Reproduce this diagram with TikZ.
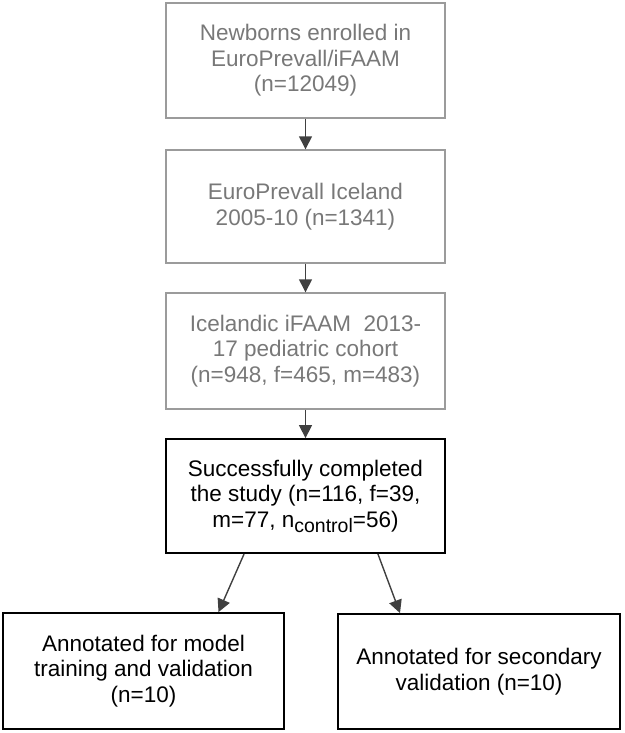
\documentclass[tikz,border=0pt]{standalone}
\usepackage{fontspec}
\setmainfont{Liberation Sans}
\usetikzlibrary{arrows.meta}
\definecolor{graytext}{RGB}{120,120,120}
\definecolor{grayline}{RGB}{155,155,155}
\definecolor{arrowcol}{RGB}{64,64,64}
\newcommand{\subctl}[1]{\raisebox{-5pt}{\fontsize{19.5}{19.5}\selectfont #1}}
\begin{document}
\begin{tikzpicture}[x=1pt,y=-1pt,
  basebox/.style={rectangle, inner sep=0pt, align=center,
    font=\fontsize{22.5}{25.5}\selectfont},
  graybox/.style={basebox, draw=grayline, text=graytext, line width=1.4pt},
  blackbox/.style={basebox, draw=black, text=black, line width=1.8pt},
  conn/.style={draw=arrowcol, line width=1.4pt,
    -{Triangle[length=13pt,width=13pt,fill=arrowcol]}}]
\useasboundingbox (0,0) rectangle (624,733);
\node[graybox, minimum width=279pt, minimum height=115pt] (b1) at (305.5,60.5)
  {Newborns enrolled in\\EuroPrevall/iFAAM\\(n=12049)};
\node[graybox, minimum width=279pt, minimum height=113pt] (b2) at (305.5,206.5)
  {EuroPrevall Iceland\\2005-10 (n=1341)};
\node[graybox, minimum width=279pt, minimum height=116pt] (b3) at (305.5,351)
  {Icelandic iFAAM\ \ 2013-\\17 pediatric cohort\\(n=948, f=465, m=483)};
\node[blackbox, minimum width=279pt, minimum height=114pt] (b4) at (305.5,496)
  {Successfully completed\\the study (n=116, f=39,\\m=77, n\subctl{control}=56)};
\node[blackbox, minimum width=281pt, minimum height=116pt] (b5) at (143.5,671)
  {Annotated for model\\training and validation\\(n=10)};
\node[blackbox, minimum width=282pt, minimum height=115pt] (b6) at (479,671.5)
  {Annotated for secondary\\validation (n=10)};
\draw[conn] (b1) -- (b2);
\draw[conn] (b2) -- (b3);
\draw[conn] (b3) -- (b4);
\draw[conn] ([xshift=79pt]b4.south west) -- ([xshift=75pt]b5.north);
\draw[conn] ([xshift=-68pt]b4.south east) -- ([xshift=-79pt]b6.north);
\end{tikzpicture}
\end{document}
